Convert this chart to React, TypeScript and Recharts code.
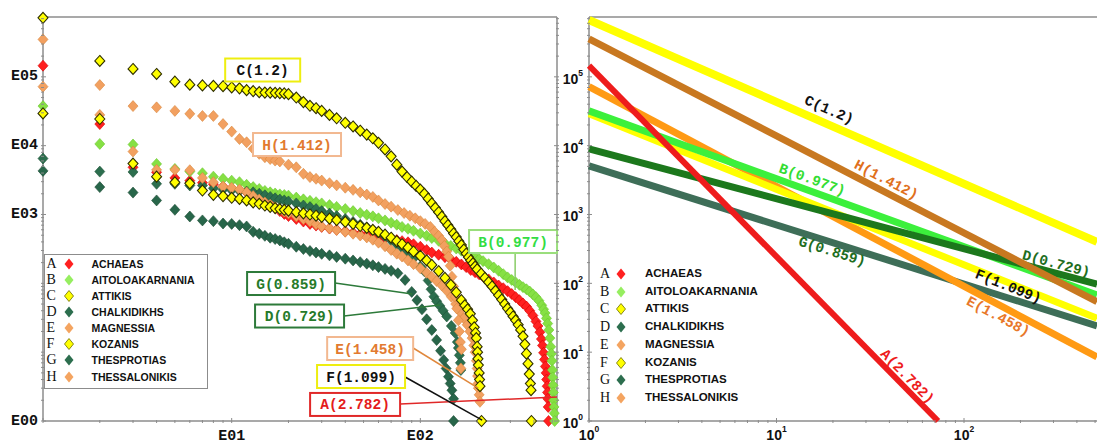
import React from "react";
import { ScatterChart, Scatter, XAxis, YAxis, Legend } from "recharts";

type Pt = [number, number];

const LETTERS = ["A", "B", "C", "D", "E", "F", "G", "H"];
const PREFECTURES = [
  "ACHAEAS", "AITOLOAKARNANIA", "ATTIKIS", "CHALKIDIKHS",
  "MAGNESSIA", "KOZANIS", "THESPROTIAS", "THESSALONIKIS",
];
const EXPONENTS = ["2.782", "0.977", "1.2", "0.729", "1.458", "1.099", "0.859", "1.412"];

// rank-size points: [rank, population]
const ACHAEAS: Pt[] = [
  [1, 145000], [2, 20600], [3, 4850], [4, 4100], [5, 3400], [6, 3100], [7, 2900], [8, 2750], [9, 2550], [10, 2400],
  [11, 2250], [12, 2100], [13, 1900], [14, 1750], [15, 1550], [16, 1400], [17, 1250], [18, 1120], [19, 1020], [20, 950],
  [22, 860], [24, 790], [26, 730], [28, 690], [30, 660], [33, 625], [36, 600], [40, 570], [44, 545], [48, 520],
  [52, 500], [56, 485], [60, 470], [65, 455], [70, 440], [75, 425], [80, 410], [86, 395], [92, 370], [100, 340],
  [108, 305], [115, 280], [125, 260], [135, 240], [145, 222], [155, 205], [165, 188], [175, 172], [185, 156], [195, 145],
  [205, 135], [215, 126], [230, 114], [245, 103], [260, 93], [275, 85], [290, 77], [305, 70], [320, 63], [335, 57],
  [350, 51], [365, 46], [380, 40], [395, 34], [410, 28], [420, 24], [430, 19.5], [438, 15.5], [444, 12.5], [450, 9.8],
  [455, 7.8], [460, 6.2], [464, 5], [467, 4], [470, 3.2], [472, 2.6], [474, 2.1], [476, 1.6], [478, 1],
];
const AITOLOAKARNANIA: Pt[] = [
  [1, 37600], [2, 10600], [3, 10400], [4, 5430], [5, 4600], [6, 4200], [7, 3980], [8, 3550], [9, 3300], [10, 3100],
  [11, 2950], [12, 2700], [13, 2500], [14, 2350], [15, 2200], [16, 2100], [17, 2020], [18, 1960], [19, 1920], [20, 1880],
  [22, 1760], [24, 1660], [26, 1580], [28, 1510], [30, 1450], [33, 1370], [36, 1290], [40, 1200], [44, 1120], [48, 1050],
  [52, 990], [56, 940], [60, 880], [65, 820], [70, 760], [75, 710], [80, 660], [86, 620], [92, 580], [100, 530],
  [108, 490], [115, 455], [125, 415], [135, 380], [145, 350], [155, 320], [165, 298], [175, 278], [185, 258], [195, 240],
  [205, 225], [215, 210], [230, 190], [245, 170], [260, 152], [275, 136], [290, 122], [305, 112], [320, 103], [335, 95],
  [350, 88], [365, 82], [380, 76], [395, 69], [410, 63], [425, 56], [440, 48], [450, 42], [458, 37], [466, 31],
  [473, 26], [480, 21], [486, 16], [491, 12], [495, 9.5], [498, 7.5], [501, 5.5], [503, 4.3], [505, 3.3], [507, 2.6],
  [509, 2], [511, 1.6], [513, 1.3], [515, 1],
];
const ATTIKIS: Pt[] = [
  [1, 720000], [2, 170000], [3, 130000], [4, 110000], [5, 85000], [6, 77000], [7, 75000], [8, 74000], [9, 73000], [10, 70000],
  [11, 68000], [12, 64000], [13, 62000], [14, 60000], [15, 59000], [16, 59000], [17, 58500], [18, 58000], [19, 57500], [20, 56000],
  [22, 50000], [24, 43000], [26, 38000], [28, 35000], [30, 32000], [33, 28000], [36, 25000], [40, 21500], [44, 19000], [48, 16500],
  [52, 14500], [56, 12800], [60, 11000], [65, 8800], [70, 7000], [75, 5300], [80, 4200], [85, 3500], [90, 3000], [95, 2600],
  [100, 2300], [105, 2000], [110, 1700], [115, 1450], [120, 1250], [125, 1080], [130, 930], [135, 800], [140, 700], [145, 610],
  [150, 530], [155, 470], [160, 410], [165, 360], [170, 310], [175, 270], [180, 240], [185, 215], [190, 195], [195, 175],
  [200, 160], [210, 138], [220, 120], [230, 104], [240, 90], [250, 78], [260, 67], [270, 58], [280, 50], [290, 43],
  [300, 38], [310, 33], [320, 29], [330, 25], [340, 21], [350, 17], [358, 13], [365, 9.5], [372, 6.8], [378, 4.8],
  [383, 3.5], [386, 2.8], [388, 1],
];
const CHALKIDIKHS: Pt[] = [
  [1, 6500], [2, 4200], [3, 4150], [4, 2790], [5, 2790], [6, 2640], [7, 2640], [8, 2400], [9, 2300], [10, 2250],
  [11, 2200], [12, 2150], [13, 2100], [14, 2000], [15, 1900], [16, 1800], [17, 1720], [18, 1650], [19, 1600], [20, 1550],
  [22, 1450], [24, 1350], [26, 1280], [28, 1200], [30, 1120], [33, 1030], [36, 950], [40, 860], [44, 780], [48, 710],
  [52, 650], [56, 590], [60, 540], [65, 480], [70, 420], [75, 370], [80, 330], [86, 280], [92, 230], [100, 175],
  [105, 150], [110, 110], [114, 82], [118, 64], [122, 55], [127, 47], [132, 40], [138, 33], [146, 24], [153, 19],
  [157, 14], [159, 11.5], [161, 9], [163, 7], [164, 5.5],
];
const MAGNESSIA: Pt[] = [
  [1, 72000], [2, 28000], [3, 8200], [4, 4450], [5, 4450], [6, 4400], [7, 3400], [8, 2940], [9, 2550], [10, 2440],
  [11, 2300], [12, 2100], [13, 1850], [14, 1650], [15, 1500], [16, 1380], [17, 1270], [18, 1180], [19, 1100], [20, 1040],
  [22, 940], [24, 860], [26, 790], [28, 720], [30, 670], [33, 630], [36, 595], [40, 560], [44, 525], [48, 495],
  [52, 465], [56, 430], [60, 390], [65, 345], [70, 305], [75, 270], [80, 245], [86, 215], [92, 190], [100, 165],
  [108, 142], [115, 125], [122, 108], [130, 93], [138, 78], [146, 64], [154, 50], [162, 39], [170, 31], [177, 25],
  [183, 20], [188, 16], [192, 12.5], [195, 10], [198, 7.5], [200, 5.8], [201, 4.5], [202, 3.5], [203, 3], [205, 2.4],
  [207, 1.9],
];
const KOZANIS: Pt[] = [
  [1, 29400], [2, 24400], [3, 5500], [4, 3550], [5, 2940], [6, 2840], [7, 2230], [8, 1930], [9, 1850], [10, 1750],
  [11, 1680], [12, 1600], [13, 1500], [14, 1430], [15, 1350], [16, 1290], [17, 1240], [18, 1200], [19, 1170], [20, 1140],
  [22, 1080], [24, 1040], [26, 1000], [28, 960], [30, 920], [33, 870], [36, 830], [40, 780], [44, 730], [48, 680],
  [52, 640], [56, 600], [60, 560], [65, 510], [70, 460], [75, 410], [80, 370], [86, 330], [92, 290], [100, 250],
  [108, 215], [115, 185], [125, 150], [135, 120], [145, 95], [155, 74], [165, 57], [172, 48], [178, 42], [184, 36],
  [189, 29], [193, 23], [196, 19], [198, 16], [200, 12], [201, 10], [202, 8], [203, 6.5], [205, 5], [206, 4],
  [207, 3.2], [211, 1],
];
const THESPROTIAS: Pt[] = [
  [1, 4300], [2, 2500], [3, 2080], [4, 1600], [5, 1170], [6, 935], [7, 820], [8, 800], [9, 740], [10, 730],
  [11, 700], [12, 670], [13, 560], [14, 525], [15, 490], [16, 460], [17, 440], [18, 420], [19, 395], [20, 376],
  [22, 340], [24, 315], [26, 295], [28, 280], [30, 268], [33, 255], [36, 242], [40, 228], [44, 215], [48, 203],
  [52, 193], [56, 183], [60, 172], [65, 162], [70, 152], [76, 140], [83, 112], [90, 75], [96, 57], [102, 42],
  [108, 30], [115, 21], [122, 15], [128, 10.5], [133, 7.7], [137, 5.8], [141, 4.4], [144, 3.5], [147, 2.8], [150, 2.1],
  [150, 1],
];
const THESSALONIKIS: Pt[] = [
  [1, 350000], [2, 76000], [3, 37600], [4, 36000], [5, 32000], [6, 29000], [7, 27000], [8, 27000], [9, 20600], [10, 16000],
  [11, 12500], [12, 11200], [13, 9000], [14, 7600], [15, 6800], [16, 6400], [17, 6070], [18, 5900], [20, 5300], [22, 4850],
  [24, 3900], [26, 3500], [28, 3300], [30, 3110], [33, 2850], [36, 2650], [40, 2450], [44, 2280], [48, 2100], [52, 1950],
  [56, 1800], [60, 1600], [65, 1420], [70, 1300], [76, 1160], [82, 1050], [88, 960], [94, 880], [100, 800], [106, 730],
  [113, 660], [119, 560], [125, 490], [130, 425], [134, 350], [138, 290], [141, 244], [144, 180], [147, 125], [150, 90],
  [153, 64], [156, 43], [159, 29], [161, 20], [163, 14], [165, 11], [164, 5.8],
];
const SERIES = [ACHAEAS, AITOLOAKARNANIA, ATTIKIS, CHALKIDIKHS, MAGNESSIA, KOZANIS, THESPROTIAS, THESSALONIKIS];

// fitted power laws on the right panel: value at rank 1, and the point where each line leaves the frame
const FIT_START = [145000, 32000, 670000, 9000, 72000, 29000, 5100, 356000];
const FIT_END: Pt[] = [[72.7, 1], [512, 68], [512, 400], [512, 97], [512, 8.5], [512, 31], [512, 24], [512, 54]];

// annotations (data coordinates)
const BOX_AT: Pt[] = [[45.1, 1.74], [310, 405], [14.6, 125600], [22.9, 33.5], [54.2, 11.3], [48.5, 4.43], [20.65, 99.4], [22.2, 10390]];
const POINTERS: (Pt[] | null)[] = [
  [[78.2, 1.77], [530, 2.23]],
  [[318, 275], [318, 80]],
  null,
  [[39.4, 33.5], [127, 48.4]],
  [[91.6, 11.5], [202.6, 3.0]],
  [[83, 4.36], [212.6, 1.03]],
  [[35.3, 101], [90.5, 70]],
  null,
];
const FIT_LABEL_AT: Pt[] = [[49.7, 4.4], [15.5, 3160], [19.05, 32700], [310, 190], [152, 32.7], [172, 89], [19.8, 286], [38.4, 3160]];

const LEFT_Y_LABELS: Record<number, string> = { 1: "E00", 1000: "E03", 10000: "E04", 100000: "E05" };
const LEFT_X_LABELS: Record<number, string> = { 10: "E01", 100: "E02" };

// styling
const FILL = ["#ff2020", "#86e044", "#ffff00", "#2c6e4e", "#f2a060", "#ffff00", "#28664a", "#f2a060"];
const EDGE = ["#d80000", "#6cc830", "#2e2e00", "#1f5238", "#d8873c", "#2e2e00", "#1c4c34", "#d8873c"];
const KEY_FILL = ["#ff2020", "#96ee60", "#ffff00", "#2c6e4e", "#f4a460", "#ffff00", "#2c6e4e", "#f4a460"];
const LINE = ["#ee1c1c", "#3cf03c", "#ffff00", "#1c781c", "#ff9a14", "#ffff00", "#3e6e58", "#c87820"];
const LINE_W = [6, 7, 8, 7, 7, 7, 7, 7];
const BOX_INK = ["#e41c1c", "#33dd44", "#111111", "#267a2a", "#e27a30", "#111111", "#267a2a", "#e27a30"];
const BOX_EDGE = ["#e02828", "#9ade7c", "#eeee10", "#2d7a3a", "#f2b890", "#eeee10", "#2d7a3a", "#f2b890"];
const POINTER_INK = ["#e02828", "#88cc66", "", "#2d7a3a", "#e0883c", "#111111", "#2d7a3a", ""];
const BOX_W = [90, 88, 75, 89, 86, 88, 88, 88];
const FIT_INK = ["#ee1c1c", "#33dd33", "#111111", "#1e6e1e", "#e8782a", "#111111", "#1e6e1e", "#e0701c"];
const FIT_ANGLE = [45.6, 20, 23.5, 15, 28, 21.8, 17.5, 27.4];
const LEFT_ORDER = [0, 1, 3, 6, 4, 7, 5, 2];
const RIGHT_ORDER = [6, 4, 5, 1, 3, 7, 2, 0];

const AXIS = "#8c8c8c";
const MONO = "'Liberation Mono', 'DejaVu Sans Mono', monospace";
const SANS = "'Liberation Sans', Arial, sans-serif";
const SERIF = "'Liberation Serif', 'Times New Roman', serif";

const Y_DOMAIN: [number, number] = [1, 740000];
const LEFT_X_DOMAIN: [number, number] = [1, 530];
const RIGHT_X_DOMAIN: [number, number] = [1, 512];

const logTicks = (max: number) => {
  const t: number[] = [];
  for (let d = 1; d <= max; d *= 10) for (let m = 1; m <= 9; m++) if (m * d <= max) t.push(m * d);
  return t;
};
const isDecade = (v: number) => Math.abs(Math.log10(v) - Math.round(Math.log10(v))) < 1e-9;

type Side = "bottom" | "top" | "left" | "right";
const tickFor =
  (side: Side, text?: (v: number, x: number, y: number) => React.ReactNode) =>
  (props: any) => {
    const { x, y, payload } = props;
    const v = payload.value as number;
    const major = isDecade(v);
    const n = major ? 5 : 3;
    const [x2, y2] =
      side === "bottom" ? [x, y - n] : side === "top" ? [x, y + n] : side === "left" ? [x + n, y] : [x - n, y];
    return (
      <g>
        <line x1={x} y1={y} x2={x2} y2={y2} stroke={AXIS} strokeWidth={1} />
        {major && text ? text(v, x, y) : null}
      </g>
    );
  };

const monoLabel = (s: string | undefined, x: number, y: number, anchor: "end" | "middle") =>
  s ? (
    <text x={x} y={y} textAnchor={anchor} dominantBaseline="central" fontFamily={MONO} fontWeight="bold" fontSize={15} fill="#111">
      {s}
    </text>
  ) : null;

const powLabel = (v: number, x: number, y: number, anchor: "end" | "middle") => (
  <text x={x} y={y} textAnchor={anchor} dominantBaseline="central" fontFamily={SANS} fontWeight="bold" fontSize={14} fill="#111">
    10
    <tspan dy={-6} fontSize={8.5}>
      {Math.round(Math.log10(v))}
    </tspan>
  </text>
);

const diamond = (fill: string, stroke: string, sw: number, hw = 5, hh = 5.5) => (p: any) => (
  <polygon
    points={`${p.cx},${p.cy - hh} ${p.cx + hw},${p.cy} ${p.cx},${p.cy + hh} ${p.cx - hw},${p.cy}`}
    fill={fill}
    stroke={stroke}
    strokeWidth={sw}
  />
);

const toXY = (pts: Pt[]) => pts.map(([x, y]) => ({ x, y }));
const nothing = () => <g />;

function KeyRows({
  firstY, rowH, letterX, markerX, nameX, letterSize, nameSize,
}: {
  firstY: number; rowH: number; letterX: number; markerX: number; nameX: number; letterSize: number; nameSize: number;
}) {
  return (
    <div style={{ position: "relative", width: "100%", height: "100%" }}>
      {LETTERS.map((l, i) => {
        const cy = firstY + i * rowH;
        const edge = i === 2 || i === 5 ? "#6a6a00" : "none";
        return (
          <React.Fragment key={l}>
            <span style={{ position: "absolute", left: letterX, top: cy, transform: "translateY(-50%)", fontFamily: SERIF, fontSize: letterSize, color: "#111", lineHeight: 1 }}>
              {l}
            </span>
            <svg style={{ position: "absolute", left: markerX - 6, top: cy - 7 }} width={12} height={14}>
              <polygon points="6,1.5 10.5,7 6,12.5 1.5,7" fill={KEY_FILL[i]} stroke={edge} strokeWidth={0.8} />
            </svg>
            <span style={{ position: "absolute", left: nameX, top: cy, transform: "translateY(-50%)", fontFamily: SANS, fontWeight: 700, fontSize: nameSize, color: "#111", lineHeight: 1, whiteSpace: "nowrap" }}>
              {PREFECTURES[i]}
            </span>
          </React.Fragment>
        );
      })}
    </div>
  );
}

function RankSizePanel() {
  const xTicks = logTicks(LEFT_X_DOMAIN[1]);
  const yTicks = logTicks(Y_DOMAIN[1]);
  const axisLine = { stroke: AXIS, strokeWidth: 1.5 };
  return (
    <ScatterChart width={560} height={443} margin={{ top: 0, right: 0, bottom: 0, left: 0 }}>
      <XAxis
        type="number" dataKey="x" scale="log" domain={LEFT_X_DOMAIN} ticks={xTicks} interval={0}
        height={22} tickSize={0} tickLine={false} axisLine={axisLine}
        tick={tickFor("bottom", (v, x, y) => monoLabel(LEFT_X_LABELS[v], x, y + 13, "middle"))}
      />
      <XAxis
        xAxisId="top" orientation="top" type="number" scale="log" domain={LEFT_X_DOMAIN} allowDataOverflow
        ticks={xTicks} interval={0} height={17} tickSize={0} tickLine={false} axisLine={axisLine} tick={tickFor("top")}
      />
      <YAxis
        type="number" dataKey="y" scale="log" domain={Y_DOMAIN} ticks={yTicks} interval={0}
        width={43} tickSize={0} tickLine={false} axisLine={axisLine}
        tick={tickFor("left", (v, x, y) => monoLabel(LEFT_Y_LABELS[v], x - 3, y, "end"))}
      />
      <YAxis
        yAxisId="r" orientation="right" type="number" scale="log" domain={Y_DOMAIN} allowDataOverflow
        ticks={yTicks} interval={0} width={3} tickSize={0} tickLine={false} axisLine={axisLine} tick={tickFor("right")}
      />
      {LEFT_ORDER.map((i) => (
        <Scatter
          key={LETTERS[i]} name={PREFECTURES[i]} data={toXY(SERIES[i])} legendType="none"
          shape={diamond(FILL[i], EDGE[i], i === 2 || i === 5 ? 1.1 : 0.6)} isAnimationActive={false}
        />
      ))}
      {POINTERS.map((seg, i) =>
        seg ? (
          <Scatter
            key={`p${i}`} data={toXY(seg)} legendType="none" shape={nothing}
            line={{ stroke: POINTER_INK[i], strokeWidth: 1.5 }} isAnimationActive={false}
          />
        ) : null
      )}
      {BOX_AT.map((at, i) => (
        <Scatter
          key={`b${i}`} data={toXY([at])} legendType="none" isAnimationActive={false}
          shape={(p: any) => (
            <g>
              <rect x={p.cx - BOX_W[i] / 2} y={p.cy - 11.5} width={BOX_W[i]} height={23} fill="#fff" stroke={BOX_EDGE[i]} strokeWidth={2} />
              <text x={p.cx} y={p.cy + 1} textAnchor="middle" dominantBaseline="central" fontFamily={MONO} fontWeight="bold" fontSize={14.5} fill={BOX_INK[i]}>
                {`${LETTERS[i]}(${EXPONENTS[i]})`}
              </text>
            </g>
          )}
        />
      ))}
      <Legend
        layout="vertical" align="center" verticalAlign="middle"
        wrapperStyle={{ left: 43.5, top: 254, width: 164, height: 135, border: `1.5px solid ${AXIS}`, background: "#fff", boxSizing: "border-box" }}
        content={() => <KeyRows firstY={8.5} rowH={16.15} letterX={2} markerX={24} nameX={47} letterSize={14} nameSize={10.5} />}
      />
    </ScatterChart>
  );
}

function FitPanel() {
  const xTicks = logTicks(RIGHT_X_DOMAIN[1]);
  const yTicks = logTicks(Y_DOMAIN[1]);
  const axisLine = { stroke: AXIS, strokeWidth: 1.5 };
  return (
    <ScatterChart width={537} height={443} margin={{ top: 0, right: 0, bottom: 0, left: 0 }}>
      <XAxis
        type="number" dataKey="x" scale="log" domain={RIGHT_X_DOMAIN} ticks={xTicks} interval={0}
        height={22} tickSize={0} tickLine={false} axisLine={axisLine}
        tick={tickFor("bottom", (v, x, y) => powLabel(v, x, y + 12, "middle"))}
      />
      <XAxis
        xAxisId="top" orientation="top" type="number" scale="log" domain={RIGHT_X_DOMAIN} allowDataOverflow
        ticks={xTicks} interval={0} height={17} tickSize={0} tickLine={false} axisLine={axisLine} tick={tickFor("top")}
      />
      <YAxis
        type="number" dataKey="y" scale="log" domain={Y_DOMAIN} ticks={yTicks} interval={0}
        width={29} tickSize={0} tickLine={false} axisLine={axisLine}
        tick={tickFor("left", (v, x, y) => powLabel(v, x - 4, y + 2, "end"))}
      />
      {RIGHT_ORDER.map((i) => (
        <Scatter
          key={LETTERS[i]} name={PREFECTURES[i]} data={toXY([[1, FIT_START[i]], FIT_END[i]])} legendType="none"
          shape={nothing} line={{ stroke: LINE[i], strokeWidth: LINE_W[i] }} isAnimationActive={false}
        />
      ))}
      {FIT_LABEL_AT.map((at, i) => (
        <Scatter
          key={`l${i}`} data={toXY([at])} legendType="none" isAnimationActive={false}
          shape={(p: any) => (
            <text
              x={p.cx} y={p.cy} transform={`rotate(${FIT_ANGLE[i]} ${p.cx} ${p.cy})`} textAnchor="middle" dominantBaseline="central"
              fontFamily={MONO} fontWeight="bold" fontSize={14.5} fill={FIT_INK[i]}
            >
              {`${LETTERS[i]}(${EXPONENTS[i]})`}
            </text>
          )}
        />
      ))}
      <Legend
        layout="vertical" align="center" verticalAlign="middle"
        wrapperStyle={{ left: 40, top: 265, width: 200, height: 145 }}
        content={() => <KeyRows firstY={9} rowH={17.7} letterX={0} markerX={21} nameX={45} letterSize={14} nameSize={11.5} />}
      />
    </ScatterChart>
  );
}

export default function App() {
  return (
    <div style={{ position: "absolute", left: 0, top: 0, width: 1097, height: 443, overflow: "hidden", background: "#fff" }}>
      <div style={{ position: "absolute", left: 0, top: 0 }}>
        <RankSizePanel />
      </div>
      <div style={{ position: "absolute", left: 560, top: 0 }}>
        <FitPanel />
      </div>
    </div>
  );
}
